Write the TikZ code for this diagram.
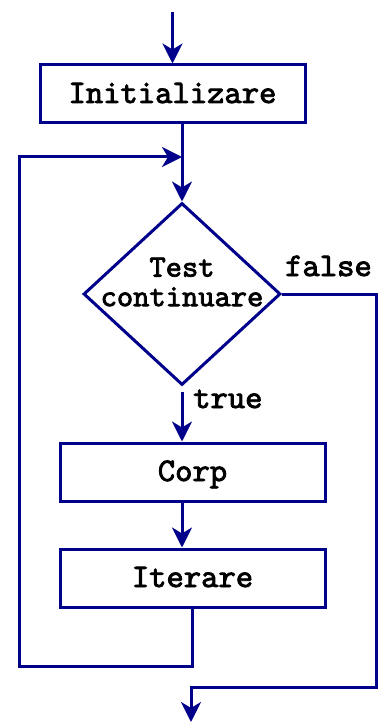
\documentclass[tikz,border=0pt]{standalone}
\usepackage{fontspec}
\newfontfamily\flowtt[FakeBold=2.5]{lmmono10-regular.otf}
\usetikzlibrary{shapes.geometric,arrows.meta}
\definecolor{flowblue}{RGB}{0,0,139}
\newcommand{\flowfont}{\fontsize{33}{29}\selectfont\flowtt}
\tikzset{
    stepbox/.style={rectangle, draw=flowblue, line width=3pt, minimum width=265pt,
        minimum height=58pt, inner sep=0pt, text height=18pt, text depth=0pt, font=\flowfont},
    decision/.style={diamond, draw=flowblue, line width=3pt, minimum width=197pt,
        minimum height=182pt, inner sep=0pt},
    lbl/.style={inner sep=0pt, font=\flowfont},
    flow/.style={draw=flowblue, line width=3pt, -{Stealth[length=20pt,width=20pt,inset=6pt]}}
}

\begin{document}
\begin{tikzpicture}[x=1pt,y=-1pt]
    \useasboundingbox (0,0) rectangle (378,722);
    % blocks
    \node[stepbox] (init) at (172.5,94) {Initializare~};
    \node[decision] (test) at (182,294) {};
    \node[lbl, align=center, font=\fontsize{31}{29.5}\selectfont\flowtt] (testtxt) at (182,282) {Test\\continuare};
    \node[stepbox] (corp) at (192.5,472) {Corp};
    \node[stepbox] (iter) at (192.5,578) {Iterare};%
    % branch labels
    \node[lbl, anchor=base west] (flabel) at (285,276) {false};
    \node[lbl, anchor=base west] (tlabel) at (193,408) {true};%
    % bends of the wires
    \coordinate (start) at (172.5,12);
    \coordinate (join) at (182,157);
    \coordinate (loopbl) at (19,666);
    \coordinate (exitcorner) at (376,687);
    \coordinate (stop) at (191,722);%
    \draw[flow] (start) -- (init.north);
    \draw[flow] (init.south -| join) -- (test.north);
    \draw[flow] ([yshift=-5pt]test.south) -- (test.south |- corp.north);
    \draw[flow] (corp.south -| test.south) -- (iter.north -| test.south);
    \draw[flow] (iter.south) |- (loopbl) |- (join);
    \draw[flow] (test.east) -| (exitcorner) -| (stop);
\end{tikzpicture}
\end{document}
